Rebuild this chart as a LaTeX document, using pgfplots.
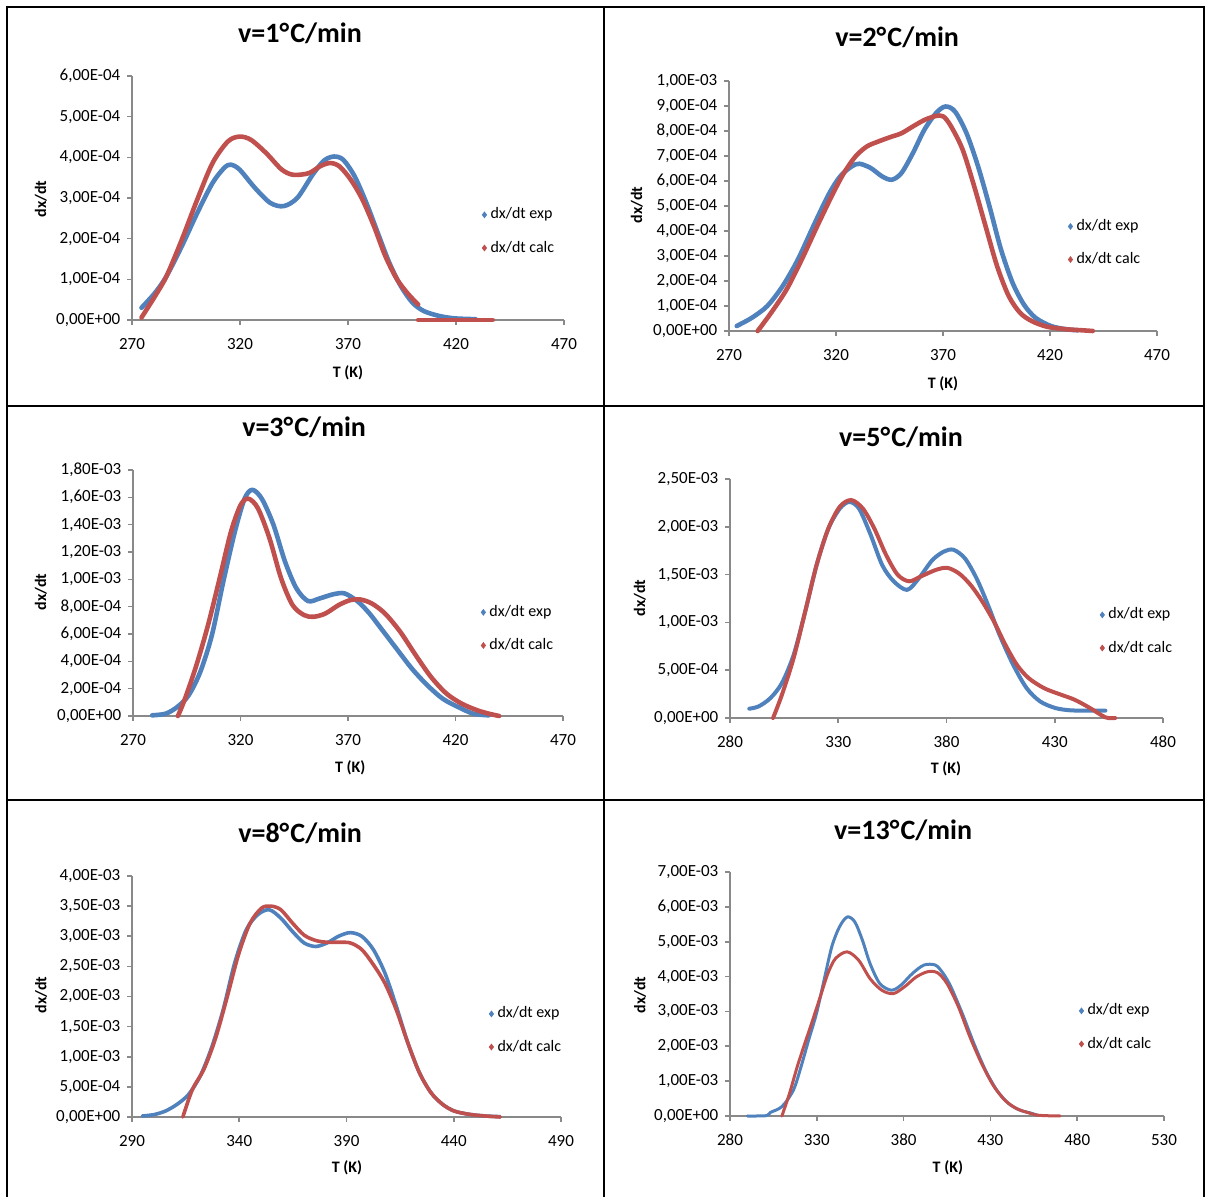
\documentclass[border=0pt]{standalone}
\usepackage{fontspec}
\setmainfont{Carlito}
\usepackage{pgfplots}
\pgfplotsset{compat=1.18}
\definecolor{exblue}{HTML}{4F81BD}
\definecolor{exred}{HTML}{C0504D}
\definecolor{axgray}{HTML}{898989}
\pgfplotsset{
 excel/.style={
  scale only axis, clip=false, anchor=south west,
  axis lines*=left,
  axis line style={draw=axgray, line width=0.8pt},
  tick align=outside, major tick length=2.3pt,
  tick style={draw=axgray, line width=0.8pt},
  scaled y ticks=false, scaled x ticks=false,
  ticklabel style={font=\fontsize{8.5}{10}\selectfont, text=black},
  xticklabel style={yshift=-3.2pt},
  xlabel={T (K)}, ylabel={dx/dt},
  label style={font=\bfseries\fontsize{8}{9}\selectfont},
  every axis title shift=0pt,
  title style={font=\bfseries\fontsize{14}{16}\selectfont, anchor=center, yshift=0pt},
  legend cell align=left,
  legend style={draw=none, fill=none, font=\fontsize{8}{9}\selectfont, anchor=west, inner sep=0pt, row sep=5.5pt, xshift=-1.5pt},
  legend image code/.code={\draw[#1] plot coordinates {(0pt,0pt)};},
 },
 lexp/.style={only marks, mark=diamond*, mark size=1.4pt, exblue},
 lcalc/.style={only marks, mark=diamond*, mark size=1.4pt, exred},
 cexp/.style={exblue, line width=#1, smooth, line join=round, line cap=round, forget plot},
 ccalc/.style={exred, line width=#1, smooth, line join=round, line cap=round, forget plot},
}
\newcommand{\dg}{°\kern0.6pt}
\begin{document}
\begin{tikzpicture}
\useasboundingbox (0,0) rectangle (603.5pt,-598.5pt);
\draw[line width=1.2pt] (3.5pt,-598.5pt) -- (3.5pt,-3.5pt) -- (602pt,-3.5pt) -- (602pt,-598.5pt);
\draw[line width=1.2pt] (302pt,-3.5pt) -- (302pt,-598.5pt);
\draw[line width=1.2pt] (3.5pt,-203pt) -- (602pt,-203pt);
\draw[line width=1.2pt] (3.5pt,-400pt) -- (602pt,-400pt);

% ---------- Panel 1 ----------
\begin{axis}[excel, at={(66pt,-160pt)}, width=216pt, height=122pt,
 xmin=270, xmax=470, ymin=0, ymax=6e-4,
 xtick={270,320,370,420,470}, xticklabels={270,320,370,420,470},
 ytick={0,1e-4,2e-4,3e-4,4e-4,5e-4,6e-4},
 yticklabels={{0,00E+00},{1,00E-04},{2,00E-04},{3,00E-04},{4,00E-04},{5,00E-04},{6,00E-04}},
 title={v=1\dg C/min}, title style={at={(axis description cs:0.389,1.176)}},
 xlabel style={at={(axis description cs:0.5,-0.217)}, anchor=center},
 ylabel style={at={(axis description cs:-0.211,0.496)}, anchor=center},
 legend style={at={(axis description cs:0.817,0.363)}}]
\addlegendimage{lexp}\addlegendentry{dx/dt exp}
\addlegendimage{lcalc}\addlegendentry{dx/dt calc}
\addplot[cexp=2.3pt] table {
274.4 0.30e-4
280.7 0.67e-4
286.0 1.08e-4
293.1 1.82e-4
300.2 2.63e-4
307.3 3.37e-4
312.7 3.74e-4
315.7 3.82e-4
319.8 3.70e-4
326.9 3.25e-4
334.0 2.88e-4
340.2 2.80e-4
346.5 3.00e-4
353.6 3.57e-4
358.9 3.92e-4
363.5 4.02e-4
367.8 3.94e-4
373.1 3.53e-4
378.5 2.88e-4
383.8 2.14e-4
389.1 1.41e-4
394.5 0.83e-4
399.8 0.43e-4
405.1 0.22e-4
412.2 0.10e-4
419.3 0.04e-4
429.1 0.02e-4
};
\addplot[ccalc=2.3pt] table {
274.4 0.06e-4
280.7 0.59e-4
286.0 1.08e-4
293.1 1.98e-4
300.2 2.96e-4
307.3 3.86e-4
314.4 4.39e-4
319.8 4.51e-4
325.1 4.43e-4
332.2 4.10e-4
339.3 3.70e-4
344.7 3.57e-4
351.8 3.61e-4
357.1 3.78e-4
361.6 3.86e-4
366.0 3.78e-4
371.3 3.45e-4
376.7 2.96e-4
382.0 2.31e-4
387.3 1.57e-4
392.7 1.00e-4
398.0 0.63e-4
402.5 0.38e-4
};
\addplot[ccalc=2.3pt] table {
402.5 0
410.0 0
420.0 0
430.0 0
437.0 0
};
\end{axis}

% ---------- Panel 2 ----------
\begin{axis}[excel, at={(364.5pt,-165.5pt)}, width=214pt, height=125pt,
 xmin=270, xmax=470, ymin=0, ymax=1e-3,
 xtick={270,320,370,420,470}, xticklabels={270,320,370,420,470},
 ytick={0,1e-4,2e-4,3e-4,4e-4,5e-4,6e-4,7e-4,8e-4,9e-4,1e-3},
 yticklabels={{0,00E+00},{1,00E-04},{2,00E-04},{3,00E-04},{4,00E-04},{5,00E-04},{6,00E-04},{7,00E-04},{8,00E-04},{9,00E-04},{1,00E-03}},
 title={v=2\dg C/min}, title style={at={(axis description cs:0.393,1.176)}},
 xlabel style={at={(axis description cs:0.5,-0.212)}, anchor=center},
 ylabel style={at={(axis description cs:-0.215,0.504)}, anchor=center},
 legend style={at={(axis description cs:0.799,0.352)}}]
\addlegendimage{lexp}\addlegendentry{dx/dt exp}
\addlegendimage{lcalc}\addlegendentry{dx/dt calc}
\addplot[cexp=2.3pt] table {
273.6 0.20e-4
280.7 0.53e-4
287.9 1.00e-4
295.1 1.80e-4
302.2 2.86e-4
309.4 4.19e-4
316.5 5.45e-4
321.9 6.18e-4
327.3 6.58e-4
330.9 6.69e-4
336.2 6.52e-4
341.6 6.18e-4
346.1 6.05e-4
350.6 6.32e-4
355.9 7.11e-4
361.3 8.05e-4
366.7 8.71e-4
371.1 8.98e-4
375.6 8.78e-4
381.0 7.91e-4
386.4 6.58e-4
391.7 4.99e-4
397.1 3.26e-4
402.5 1.93e-4
407.8 1.06e-4
413.2 0.53e-4
420.4 0.20e-4
427.5 0.07e-4
432.9 0.03e-4
};
\addplot[ccalc=2.3pt] table {
283.4 0
289.7 0.73e-4
296.9 1.66e-4
304.0 2.86e-4
311.2 4.19e-4
318.3 5.45e-4
323.7 6.32e-4
329.1 6.98e-4
334.4 7.38e-4
339.8 7.58e-4
345.2 7.75e-4
350.6 7.91e-4
355.9 8.18e-4
361.3 8.44e-4
366.7 8.60e-4
370.2 8.58e-4
373.8 8.18e-4
379.2 7.25e-4
384.6 5.78e-4
389.9 4.19e-4
395.3 2.59e-4
400.7 1.40e-4
406.0 0.73e-4
411.4 0.40e-4
418.6 0.17e-4
427.5 0.07e-4
434.7 0.03e-4
440.0 0
};
\end{axis}

% ---------- Panel 3 ----------
\begin{axis}[excel, at={(66.5pt,-358pt)}, width=215pt, height=123pt,
 xmin=270, xmax=470, ymin=0, ymax=1.8e-3,
 xtick={270,320,370,420,470}, xticklabels={270,320,370,420,470},
 ytick={0,2e-4,4e-4,6e-4,8e-4,1e-3,1.2e-3,1.4e-3,1.6e-3,1.8e-3},
 yticklabels={{0,00E+00},{2,00E-04},{4,00E-04},{6,00E-04},{8,00E-04},{1,00E-03},{1,20E-03},{1,40E-03},{1,60E-03},{1,80E-03}},
 title={v=3\dg C/min}, title style={at={(axis description cs:0.398,1.175)}},
 xlabel style={at={(axis description cs:0.505,-0.211)}, anchor=center},
 ylabel style={at={(axis description cs:-0.214,0.504)}, anchor=center},
 legend style={at={(axis description cs:0.816,0.354)}}]
\addlegendimage{lexp}\addlegendentry{dx/dt exp}
\addlegendimage{lcalc}\addlegendentry{dx/dt calc}
\addplot[cexp=2.3pt] table {
278.9 0.05e-4
285.2 0.17e-4
290.6 0.66e-4
295.9 1.52e-4
301.3 3.23e-4
306.7 5.92e-4
312.0 9.83e-4
317.4 13.5e-4
321.9 15.9e-4
325.5 16.55e-4
329.9 15.9e-4
335.3 14.0e-4
340.7 11.3e-4
346.0 9.34e-4
351.4 8.41e-4
356.8 8.6e-4
363.0 8.9e-4
368.4 8.97e-4
374.7 8.36e-4
380.0 7.5e-4
385.4 6.4e-4
392.5 4.94e-4
399.7 3.47e-4
406.9 2.25e-4
414.0 1.27e-4
421.2 0.66e-4
428.3 0.17e-4
435.5 0.05e-4
};
\addplot[ccalc=2.3pt] table {
290.9 0
294.2 1.27e-4
299.5 3.72e-4
304.9 6.65e-4
310.3 10.07e-4
315.6 13.5e-4
320.1 15.45e-4
323.7 15.9e-4
328.1 15.2e-4
333.5 13.0e-4
338.9 10.07e-4
344.2 8.12e-4
349.6 7.38e-4
354.1 7.26e-4
359.5 7.5e-4
365.7 8.12e-4
371.1 8.48e-4
375.6 8.53e-4
381.0 8.24e-4
387.2 7.5e-4
394.3 6.16e-4
401.5 4.45e-4
408.6 2.86e-4
415.8 1.64e-4
422.9 0.9e-4
430.1 0.42e-4
435.5 0.17e-4
440.3 0
};
\end{axis}

% ---------- Panel 4 ----------
\begin{axis}[excel, at={(365pt,-359pt)}, width=216.5pt, height=119.5pt,
 xmin=280, xmax=480, ymin=0, ymax=2.5e-3,
 xtick={280,330,380,430,480}, xticklabels={280,330,380,430,480},
 ytick={0,5e-4,1e-3,1.5e-3,2e-3,2.5e-3},
 yticklabels={{0,00E+00},{5,00E-04},{1,00E-03},{1,50E-03},{2,00E-03},{2,50E-03}},
 title={v=5\dg C/min}, title style={at={(axis description cs:0.395,1.176)}},
 xlabel style={at={(axis description cs:0.499,-0.213)}, anchor=center},
 ylabel style={at={(axis description cs:-0.208,0.502)}, anchor=center},
 legend style={at={(axis description cs:0.861,0.362)}}]
\addlegendimage{lexp}\addlegendentry{dx/dt exp}
\addlegendimage{lcalc}\addlegendentry{dx/dt calc}
\addplot[cexp=2pt] table {
288.9 0.97e-4
293.3 1.22e-4
298.7 2.09e-4
304.0 3.66e-4
309.4 6.6e-4
314.7 11.1e-4
320.0 16.0e-4
325.4 19.8e-4
330.7 21.9e-4
335.1 22.6e-4
339.6 21.9e-4
344.9 19.2e-4
350.3 16.0e-4
355.6 14.3e-4
361.8 13.4e-4
367.2 14.6e-4
373.4 16.5e-4
378.7 17.4e-4
383.2 17.6e-4
388.5 16.7e-4
393.9 14.6e-4
399.2 11.8e-4
404.5 8.7e-4
410.8 5.57e-4
417.0 3.13e-4
423.2 1.74e-4
430.3 1.04e-4
437.4 0.8e-4
446.3 0.77e-4
453.4 0.77e-4
};
\addplot[ccalc=2pt] table {
299.9 0
304.0 2.44e-4
309.4 6.27e-4
314.7 11.1e-4
320.0 16.0e-4
325.4 19.8e-4
330.7 22.1e-4
336.0 22.8e-4
341.4 21.9e-4
346.7 19.8e-4
352.0 17.1e-4
357.4 15.0e-4
362.7 14.3e-4
368.1 14.8e-4
375.2 15.5e-4
380.5 15.7e-4
385.9 15.1e-4
391.2 13.9e-4
396.5 12.2e-4
401.9 10.1e-4
407.2 7.66e-4
412.5 5.57e-4
417.9 4.18e-4
425.0 3.13e-4
432.1 2.5e-4
439.2 1.91e-4
446.3 1.04e-4
453.4 0.07e-4
457.9 0
};
\end{axis}

% ---------- Panel 5 ----------
\begin{axis}[excel, at={(66pt,-558.5pt)}, width=214.5pt, height=120.5pt,
 xmin=290, xmax=490, ymin=0, ymax=4e-3,
 xtick={290,340,390,440,490}, xticklabels={290,340,390,440,490},
 ytick={0,5e-4,1e-3,1.5e-3,2e-3,2.5e-3,3e-3,3.5e-3,4e-3},
 yticklabels={{0,00E+00},{5,00E-04},{1,00E-03},{1,50E-03},{2,00E-03},{2,50E-03},{3,00E-03},{3,50E-03},{4,00E-03}},
 title={v=8\dg C/min}, title style={at={(axis description cs:0.392,1.178)}},
 xlabel style={at={(axis description cs:0.501,-0.212)}, anchor=center},
 ylabel style={at={(axis description cs:-0.212,0.506)}, anchor=center},
 legend style={at={(axis description cs:0.839,0.359)}}]
\addlegendimage{lexp}\addlegendentry{dx/dt exp}
\addlegendimage{lcalc}\addlegendentry{dx/dt calc}
\addplot[cexp=1.8pt] table {
294.8 0.17e-4
300.2 0.39e-4
305.6 0.99e-4
311.0 2.1e-4
316.4 3.75e-4
321.8 6.8e-4
327.1 11.5e-4
332.5 17.8e-4
337.9 25.6e-4
343.3 31.1e-4
348.7 33.6e-4
354.0 34.4e-4
359.4 33.0e-4
364.8 30.8e-4
370.2 28.9e-4
375.6 28.3e-4
381.0 28.9e-4
386.3 30.0e-4
391.7 30.6e-4
397.1 30.0e-4
402.5 27.8e-4
407.9 23.9e-4
413.2 18.4e-4
418.6 12.3e-4
424.0 7.34e-4
429.4 4.03e-4
434.8 2.1e-4
440.2 0.99e-4
447.3 0.44e-4
454.5 0.17e-4
461.7 0.06e-4
};
\addplot[ccalc=1.8pt] table {
313.7 0
318.2 4.6e-4
323.5 7.9e-4
328.9 13.0e-4
334.3 19.8e-4
339.7 27.0e-4
345.1 32.2e-4
350.5 34.7e-4
354.9 35.0e-4
359.4 34.4e-4
364.8 32.2e-4
370.2 30.2e-4
375.6 29.3e-4
381.0 29.0e-4
386.3 29.0e-4
391.7 28.9e-4
397.1 27.8e-4
402.5 25.3e-4
407.9 22.2e-4
413.2 17.8e-4
418.6 12.3e-4
424.0 7.34e-4
429.4 4.03e-4
434.8 2.1e-4
440.2 0.99e-4
447.3 0.44e-4
454.5 0.17e-4
461.7 0
};
\end{axis}

% ---------- Panel 6 ----------
\begin{axis}[excel, at={(365pt,-558pt)}, width=217pt, height=122pt,
 xmin=280, xmax=530, ymin=0, ymax=7e-3,
 xtick={280,330,380,430,480,530}, xticklabels={280,330,380,430,480,530},
 ytick={0,1e-3,2e-3,3e-3,4e-3,5e-3,6e-3,7e-3},
 yticklabels={{0,00E+00},{1,00E-03},{2,00E-03},{3,00E-03},{4,00E-03},{5,00E-03},{6,00E-03},{7,00E-03}},
 title={v=13\dg C/min}, title style={at={(axis description cs:0.399,1.172)}},
 xlabel style={at={(axis description cs:0.502,-0.213)}, anchor=center},
 ylabel style={at={(axis description cs:-0.207,0.496)}, anchor=center},
 legend style={at={(axis description cs:0.811,0.363)}}]
\addlegendimage{lexp}\addlegendentry{dx/dt exp}
\addlegendimage{lcalc}\addlegendentry{dx/dt calc}
\addplot[cexp=1.5pt] table {
290.0 0
301.0 0.01e-3
303.2 0.10e-3
309.9 0.27e-3
316.5 0.74e-3
320.9 1.41e-3
325.3 2.18e-3
329.8 2.94e-3
334.2 3.90e-3
338.6 4.85e-3
343.0 5.42e-3
347.5 5.71e-3
351.9 5.57e-3
356.3 5.04e-3
360.7 4.37e-3
366.3 3.80e-3
372.9 3.61e-3
378.4 3.75e-3
385.1 4.09e-3
391.7 4.33e-3
398.3 4.33e-3
402.8 4.09e-3
407.2 3.71e-3
413.8 2.94e-3
420.5 2.08e-3
427.1 1.32e-3
433.7 0.74e-3
440.4 0.36e-3
447.0 0.17e-3
453.6 0.08e-3
457.0 0.02e-3
};
\addplot[ccalc=1.5pt] table {
309.9 0
314.3 0.65e-3
318.7 1.41e-3
323.1 2.08e-3
327.6 2.75e-3
332.0 3.42e-3
336.4 4.09e-3
340.8 4.52e-3
347.5 4.71e-3
354.1 4.47e-3
360.7 3.94e-3
367.4 3.61e-3
374.0 3.51e-3
380.6 3.71e-3
387.3 3.99e-3
393.9 4.14e-3
399.5 4.11e-3
405.0 3.80e-3
411.6 3.13e-3
418.2 2.27e-3
424.9 1.51e-3
431.5 0.89e-3
438.2 0.46e-3
444.8 0.22e-3
451.4 0.10e-3
458.0 0.02e-3
470.2 0
};
\end{axis}
\end{tikzpicture}
\end{document}
